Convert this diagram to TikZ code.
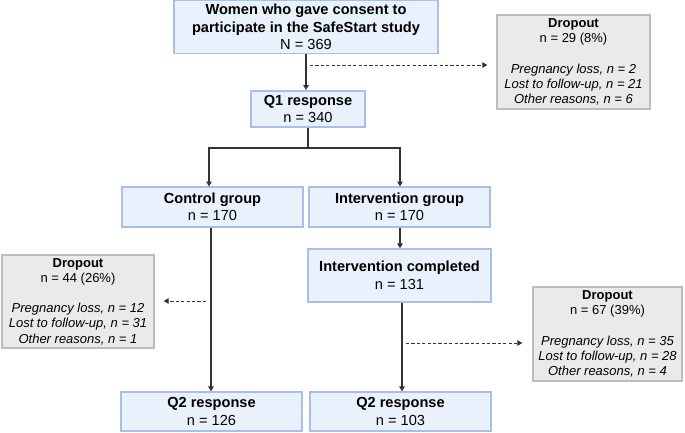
\documentclass[tikz,border=0pt]{standalone}
\usepackage{fontspec}
\setmainfont{Liberation Sans}
\usetikzlibrary{arrows.meta}
\definecolor{bfill}{HTML}{E9F1FC}
\definecolor{bdraw}{HTML}{A8C0E6}
\definecolor{gfill}{HTML}{EAEAEA}
\definecolor{gdraw}{HTML}{BDBDBD}
\definecolor{lcol}{HTML}{333333}
\begin{document}
\begin{tikzpicture}[x=1pt,y=-1pt,
  bbox/.style={draw=bdraw,fill=bfill,line width=1.3pt,inner sep=0pt,align=center,
    font=\fontsize{14.6}{17.5}\selectfont},
  gbox/.style={draw=gdraw,fill=gfill,line width=1.3pt,inner sep=0pt,align=center,
    font=\fontsize{13}{15.2}\selectfont},
  conn/.style={draw=lcol,line width=1.4pt,-{Triangle[length=5pt,width=5.5pt]}},
  dconn/.style={draw=lcol,line width=1pt,dash pattern=on 3.2pt off 2.2pt,-{Triangle[length=5pt,width=5.5pt]}}]
\useasboundingbox (0,0) rectangle (685,432);
\node[bbox,minimum width=264pt,minimum height=53pt] (top) at (306,27)
  {\textbf{Women who gave consent to}\\\textbf{participate in the SafeStart study}\\N = 369};
\node[bbox,minimum width=114pt,minimum height=36pt] (q1) at (308,109)
  {\textbf{Q1 response}\\n = 340};
\node[bbox,minimum width=181pt,minimum height=40pt] (ctrl) at (212.5,207)
  {\textbf{Control group}\\n = 170};
\node[bbox,minimum width=181pt,minimum height=40pt] (intg) at (399.5,207)
  {\textbf{Intervention group}\\n = 170};
\node[bbox,minimum width=183pt,minimum height=53pt] (intc) at (399.5,275.5)
  {\textbf{Intervention completed}\\n = 131};
\node[bbox,minimum width=181pt,minimum height=39pt] (q2l) at (211.5,411.5)
  {\textbf{Q2 response}\\n = 126};
\node[bbox,minimum width=181pt,minimum height=39pt] (q2r) at (400.5,411.5)
  {\textbf{Q2 response}\\n = 103};
\node[gbox,minimum width=153pt,minimum height=94pt] (d1) at (573.5,62)
  {\textbf{Dropout}\\n = 29 (8\%)\\[15.2pt]\textit{Pregnancy loss, n = 2}\\\textit{Lost to follow-up, n = 21}\\\textit{Other reasons, n = 6}};
\node[gbox,minimum width=152pt,minimum height=93pt] (d2) at (78,301.5)
  {\textbf{Dropout}\\n = 44 (26\%)\\[15.2pt]\textit{Pregnancy loss, n = 12}\\\textit{Lost to follow-up, n = 31}\\\textit{Other reasons, n = 1}};
\node[gbox,minimum width=149pt,minimum height=94pt] (d3) at (607.5,334)
  {\textbf{Dropout}\\n = 67 (39\%)\\[15.2pt]\textit{Pregnancy loss, n = 35}\\\textit{Lost to follow-up, n = 28}\\\textit{Other reasons, n = 4}};
% connectors
\draw[conn] (top.south -| 306,0) -- (306,90);
\coordinate (a1) at (310,65);
\coordinate (e1) at (d1.west |- a1);
\draw[dconn,shorten >=9pt] (a1) -- (e1);
\coordinate (sp) at (308,148);
\draw[draw=lcol,line width=1.4pt] (q1.south) -- (sp);
\draw[conn] (sp) -| (209,186.5);
\draw[conn] (sp) -| (400,186.5);
\draw[conn] (intg.south -| 400,0) -- (intc.north -| 400,0);
\draw[conn] (ctrl.south -| 211,0) -- (q2l.north -| 211,0);
\coordinate (a2) at (206,301);
\coordinate (e2) at (d2.east |- a2);
\draw[dconn,shorten >=9pt] (a2) -- (e2);
\draw[conn] (intc.south -| 402,0) -- (q2r.north -| 402,0);
\coordinate (a3) at (406,343);
\coordinate (e3) at (d3.west |- a3);
\draw[dconn,shorten >=10pt] (a3) -- (e3);
\end{tikzpicture}
\end{document}
